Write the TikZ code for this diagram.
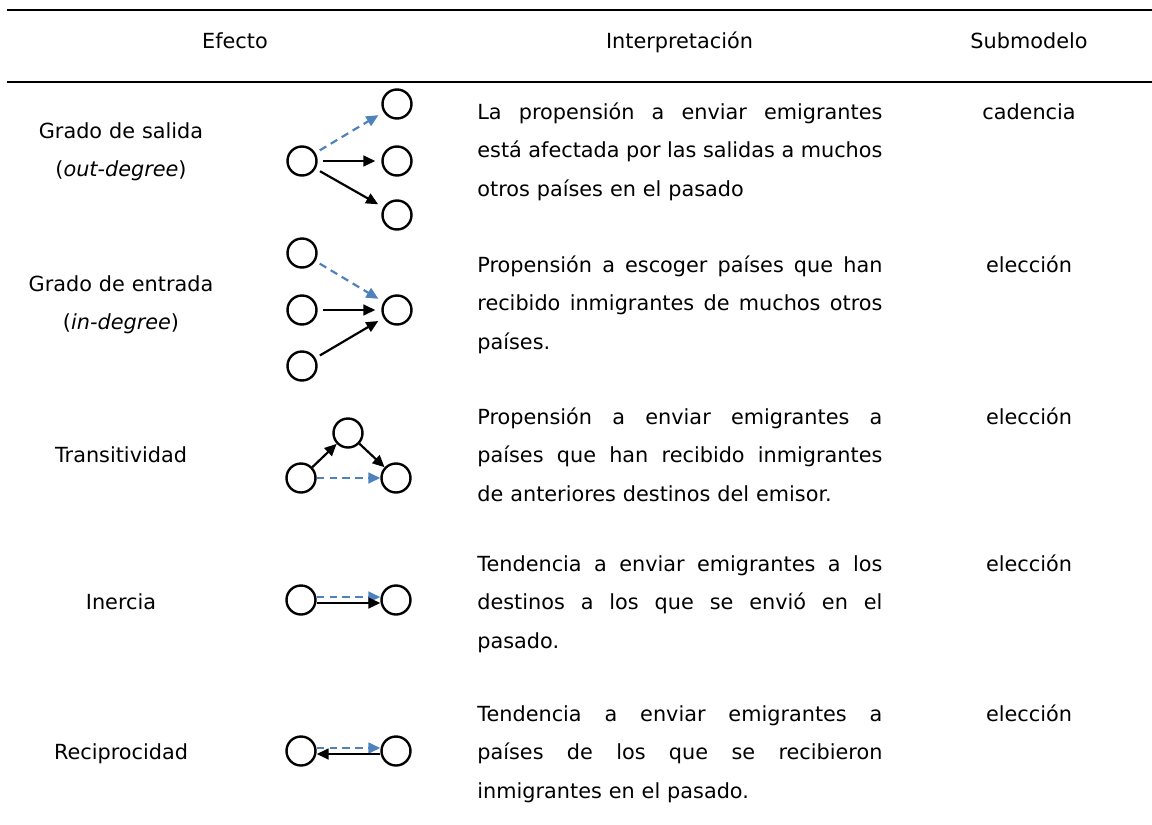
\documentclass[tikz,border=0pt]{standalone}
\usepackage{fontspec}
\setmainfont{DejaVu Sans}
\usepackage{xcolor}
\usetikzlibrary{arrows.meta}
\definecolor{azul}{RGB}{79,129,189}
\newcommand{\jl}[1]{{\spaceskip=0pt\relax\xspaceskip=0pt\relax\makebox[202.5pt][s]{#1}}}

\begin{document}
\begin{tikzpicture}[x=0.5pt,y=-0.5pt,
  pais/.style={circle,draw,line width=1.2pt,minimum size=14.5pt,inner sep=0pt},
  flecha/.style={-{Triangle[length=6pt,width=5.4pt]},line width=1.1pt},
  flechaaz/.style={flecha,azul,dash pattern=on 3.8pt off 2.6pt},
  hueco/.style={shorten <=2.5pt,shorten >=3pt},
  txt/.style={font=\fontsize{10.4}{19.25}\selectfont,inner sep=0pt},
  etiq/.style={txt,text width=110pt,align=center,anchor=base},
  interp/.style={txt,text width=202.5pt,align=left,anchor=base west},
  sub/.style={txt,anchor=base}]
\useasboundingbox (0,0) rectangle (1152,825);
\draw[line width=1.25pt] (7,10) -- (1152,10);
\draw[line width=1.25pt] (7,82) -- (1152,82);
\node[sub] (hefecto) at (235,48) {Efecto};
\node[sub] (hinterp) at (679.5,48) {Interpretación};
\node[sub] (hsub) at (1029,48) {Submodelo};

% grado de salida
\node[etiq] (lsalida) at (121,138.25) {Grado de salida\\(\textit{out-degree})};
\node[pais] (s0) at (302,161) {};
\node[pais] (s1) at (397,104) {};
\node[pais] (s2) at (397,161) {};
\node[pais] (s3) at (397,215) {};
\draw[flechaaz,hueco] (s0) -- (s1);
\draw[flecha,hueco] (s0) -- (s2);
\draw[flecha,hueco] (s0) -- (s3);
\node[interp] (isalida) at (477,119) {\jl{La propensión a enviar emigrantes}\\\jl{está afectada por las salidas a muchos}\\otros países en el pasado};
\node[sub] (ssalida) at (1029,119) {cadencia};

% grado de entrada
\node[etiq] (lentrada) at (121,291.25) {Grado de entrada\\(\textit{in-degree})};
\node[pais] (e1) at (302,253) {};
\node[pais] (e2) at (302,310) {};
\node[pais] (e3) at (302,366) {};
\node[pais] (e0) at (397,310) {};
\draw[flechaaz,hueco] (e1) -- (e0);
\draw[flecha,hueco] (e2) -- (e0);
\draw[flecha,hueco] (e3) -- (e0);
\node[interp] (ientrada) at (477,272) {\jl{Propensión a escoger países que han}\\\jl{recibido inmigrantes de muchos otros}\\países.};
\node[sub] (sentrada) at (1029,272) {elección};

% transitividad
\node[etiq] (ltrans) at (121,462.5) {Transitividad};
\node[pais] (t1) at (301,478) {};
\node[pais] (t2) at (348,433) {};
\node[pais] (t3) at (396,478) {};
\draw[flecha] (t1) -- (t2);
\draw[flecha] (t2) -- (t3);
\draw[flechaaz] (t1) -- (t3);
\node[interp] (itrans) at (477,424) {\jl{Propensión a enviar emigrantes a}\\\jl{países que han recibido inmigrantes}\\de anteriores destinos del emisor.};
\node[sub] (strans) at (1029,424) {elección};

% inercia
\node[etiq] (linercia) at (121,609.5) {Inercia};
\node[pais] (i1) at (301,600) {};
\node[pais] (i2) at (396,600) {};
\draw[flechaaz] ([yshift=1.5pt]i1.east) -- ([yshift=1.5pt]i2.west);
\draw[flecha] ([yshift=-1.5pt]i1.east) -- ([yshift=-1.5pt]i2.west);
\node[interp] (iinercia) at (477,571) {\jl{Tendencia a enviar emigrantes a los}\\\jl{destinos a los que se envió en el}\\pasado.};
\node[sub] (sinercia) at (1029,571) {elección};

% reciprocidad
\node[etiq] (lrecip) at (121,759.5) {Reciprocidad};
\node[pais] (r1) at (301,751) {};
\node[pais] (r2) at (396,751) {};
\draw[flechaaz] ([yshift=1.5pt]r1.east) -- ([yshift=1.5pt]r2.west);
\draw[flecha] ([yshift=-1.5pt]r2.west) -- ([yshift=-1.5pt]r1.east);
\node[interp] (irecip) at (477,721) {\jl{Tendencia a enviar emigrantes a}\\\jl{países de los que se recibieron}\\inmigrantes en el pasado.};
\node[sub] (srecip) at (1029,721) {elección};
\end{tikzpicture}
\end{document}
